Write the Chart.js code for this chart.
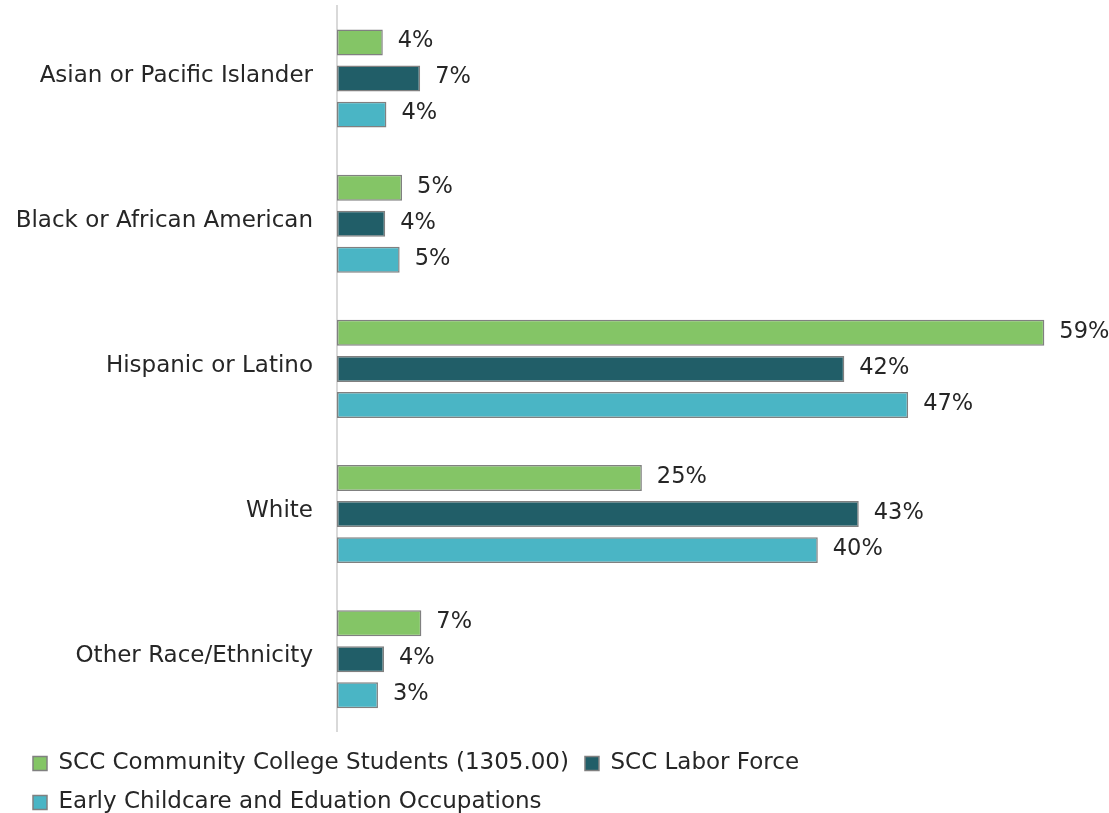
<!DOCTYPE html>
<html>
<head>
<meta charset="utf-8">
<script src="https://cdn.jsdelivr.net/npm/chart.js@4/dist/chart.umd.min.js"></script>
<style>
 html,body{margin:0;padding:0;background:#fff}
 #wrap{width:1109px;height:813px;position:relative}
</style>
</head>
<body>
<div id="wrap"><canvas id="raceChart"></canvas></div>
<script>
const categories=['Asian or Pacific Islander','Black or African American','Hispanic or Latino','White','Other Race/Ethnicity'];
const seriesNames=['SCC Community College Students (1305.00)','SCC Labor Force','Early Childcare and Eduation Occupations'];
const students=[3.8,5.4,58.7,25.3,7.0];
const laborForce=[6.9,4.0,42.1,43.3,3.9];
const earlyChildcare=[4.1,5.2,47.4,39.9,3.4];
const colors=['#84c566','#215e68','#4ab5c5'];

(function(){
 const FONT='"DejaVu Sans", sans-serif', TXT='#262626';
 const barLabels={id:'barLabels',afterDatasetsDraw(chart){
   const ctx=chart.ctx; ctx.save(); ctx.font='22.5px '+FONT; ctx.fillStyle=TXT; ctx.textBaseline='middle'; ctx.textAlign='left';
   chart.data.datasets.forEach((ds,i)=>{chart.getDatasetMeta(i).data.forEach((bar,j)=>{ctx.fillText(Math.round(ds.data[j])+'%',bar.x+15,bar.y-1);});});
   ctx.restore();
 }};
 const mk=(label,data,c)=>({label,data,backgroundColor:c,borderColor:'#808080',borderWidth:1.5,borderSkipped:false,categoryPercentage:0.745,barPercentage:0.72});
 new Chart(document.getElementById('raceChart'),{
   type:'bar',
   data:{labels:categories,datasets:[mk(seriesNames[0],students,colors[0]),mk(seriesNames[1],laborForce,colors[1]),mk(seriesNames[2],earlyChildcare,colors[2])]},
   plugins:[barLabels],
   options:{indexAxis:'y',responsive:true,maintainAspectRatio:false,animation:false,
     layout:{padding:{top:6,right:49,left:17,bottom:-11}},
     plugins:{tooltip:{enabled:false},
       legend:{position:'bottom',align:'start',
         title:{display:true,text:'',font:{size:1},padding:{top:3,bottom:0}},
         labels:{font:{family:FONT,size:23},color:TXT,boxWidth:14,boxHeight:14,padding:16,
         generateLabels:ch=>ch.data.datasets.map((d,i)=>({text:d.label,fillStyle:d.backgroundColor,strokeStyle:'#808080',lineWidth:1.5,datasetIndex:i,fontColor:TXT}))}}},
     scales:{
       x:{display:false,min:0,max:60},
       y:{grid:{display:false},border:{color:'#d9d9d9',width:2},ticks:{font:{family:FONT,size:23},color:TXT,padding:16,labelOffset:-3},
          afterFit:s=>{s.width=320;s.paddingTop=0;s.paddingBottom=0}}
     }}
 });
})();
</script>
</body>
</html>
